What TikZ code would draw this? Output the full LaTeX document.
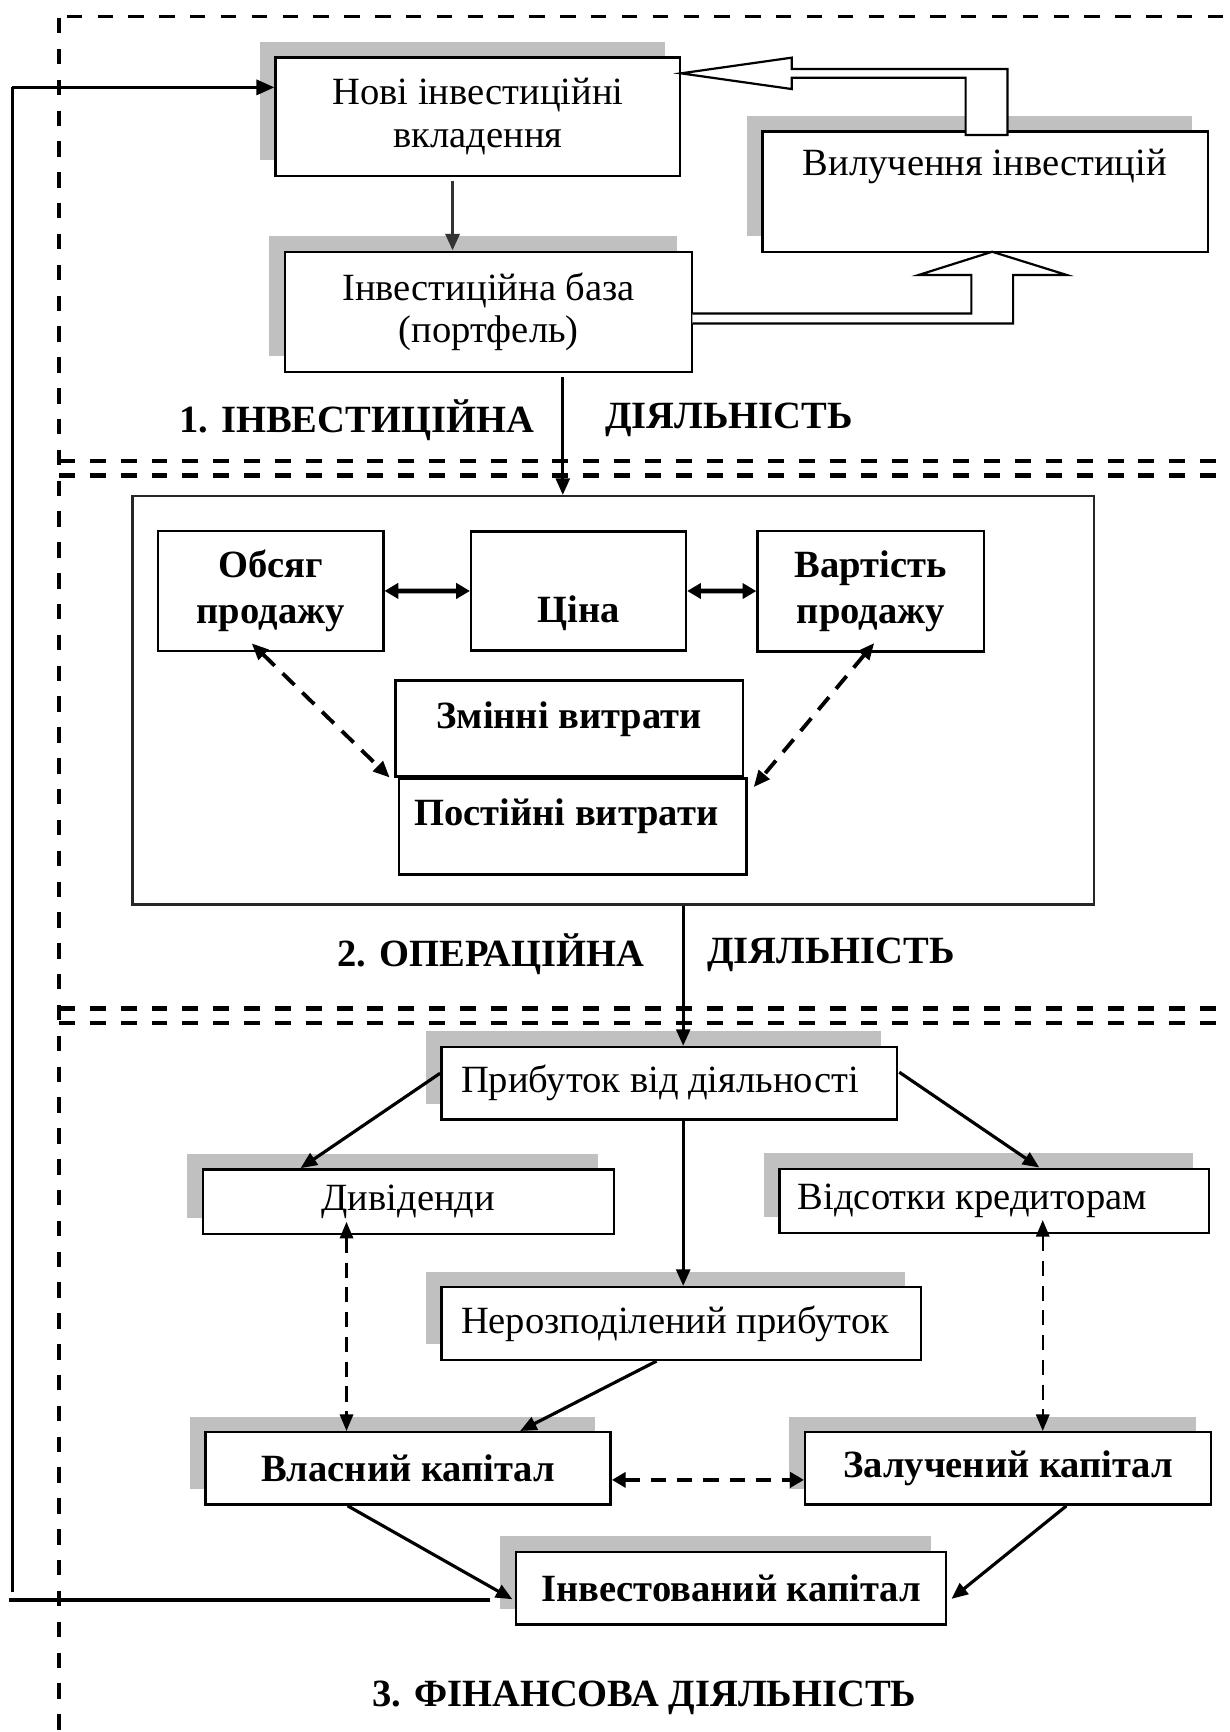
\documentclass[tikz,border=0pt]{standalone}
\usepackage{fontspec}
\setmainfont{Liberation Serif}
\usetikzlibrary{arrows.meta,fit,shadows,calc}
\definecolor{boxshadow}{HTML}{C0C0C0}
\tikzset{
  box/.style={draw, line width=0.9pt, fill=white, inner sep=0pt},
  sbox/.style={box, drop shadow={shadow xshift=-5.7pt, shadow yshift=5.7pt, opacity=1, fill=boxshadow}},
  txt/.style={inner sep=0pt, align=center},
  btxt/.style={inner sep=0pt, align=center, font=\bfseries},
  arr/.style={line width=1.15pt, -{Triangle[length=6pt,width=5pt]}},
  darr/.style={line width=1.7pt, {Triangle[length=5pt,width=5.5pt]}-{Triangle[length=5pt,width=5.5pt]}},
  dasharr/.style={line width=1.4pt, dash pattern=on 6pt off 4pt, {Triangle[length=6pt,width=5pt]}-{Triangle[length=6pt,width=5pt]}},
  thinDash/.style={line width=0.9pt, dash pattern=on 5.5pt off 3.5pt, {Triangle[length=6pt,width=4.8pt]}-{Triangle[length=6pt,width=4.8pt]}},
  thickDash/.style={line width=1.7pt, dash pattern=on 5.5pt off 4pt, {Triangle[length=5pt,width=5.5pt]}-{Triangle[length=5pt,width=5.5pt]}},
  border/.style={line width=1.2pt, dash pattern=on 5.6pt off 5.6pt},
  sepline/.style={line width=1.6pt, dash pattern=on 5.8pt off 5.4pt},
  blockarrow/.style={draw, fill=white, line width=0.8pt, line join=miter},
}
\begin{document}
\fontsize{14}{15.5}\selectfont
\begin{tikzpicture}[x={(0.014106cm,0)}, y={(0,-0.014106cm)}]
\useasboundingbox (0,0) rectangle (1113,1568);

% section borders
\draw[border] (53.4,16.3) -- (53.4,1568);
\draw[border] (60.4,15.1) -- (1113,15.1);
\draw[sepline] (53.4,417.5) -- (1113,417.5);
\draw[sepline] (53.4,430.5) -- (1113,430.5);
\draw[sepline] (53.4,913) -- (1113,913);
\draw[sepline] (53.4,926) -- (1113,926);

% x positions of the vertical connectors
\coordinate (xn) at (409.7,0);
\coordinate (xa) at (509.5,0);
\coordinate (xm) at (618.5,0);
\coordinate (xl) at (313.7,0);
\coordinate (xr) at (944,0);

% ---------- 1. investment activity ----------
\node[sbox, fit={(249.5,51.9) (615.8,159.1)}] (novi) {};
\node[txt] (novitxt) at (novi.center) {Нові інвестиційні\\вкладення};
\node[sbox, fit={(258,227.9) (626.7,336.6)}] (baza) {};
\node[txt] (bazatxt) at (baza.center) {Інвестиційна база\\(портфель)};
\node[sbox, fit={(690.2,119.2) (1093.4,227.9)}] (vyl) {};
\node[txt] (vyltxt) at (891.6,151) {Вилучення інвестицій};

\draw[line width=1.3pt, -{Triangle[length=6pt,width=5pt]}, black!80]
  ($(novi.south -| xn)+(0,4)$) -- (baza.north -| xn);

% hollow block arrows: portfolio -> withdrawal -> new investments
\draw[blockarrow] (912,122.3) -- (912,62.5) -- (716.7,62.5) -- (716.7,52.2)
  -- (616.5,66.4) -- (716.7,80.6) -- (716.7,70.3) -- (874.2,70.3) -- (874.2,122.3) -- cycle;
\draw[blockarrow] (626.7,283.8) -- (879.4,283.8) -- (879.4,249) -- (831.5,249)
  -- (898.2,227.9) -- (965.9,249) -- (917.2,249) -- (917.2,292.9) -- (626.7,292.9);

\node[btxt] (lab1a) at (323,380) {1. ІНВЕСТИЦІЙНА};
\node[btxt] (lab1b) at (660,380) {ДІЯЛЬНІСТЬ};

% ---------- 2. operating activity ----------
\node[box, draw=black!85, fit={(120,449.2) (990.2,819)}] (ops) {};
\draw[arr] ($(baza.south -| xa)+(0,4)$) -- (ops.north -| xa);

\node[box, fit={(143,480.6) (347,589.3)}] (obsyag) {};
\node[btxt] (obsyagtxt) at (obsyag.center) {Обсяг\\[1pt]продажу};
\node[box, fit={(426.6,481) (621,589)}] (tsina) {};
\node[btxt] (tsinatxt) at (523.8,555) {Ціна};
\node[box, fit={(685.8,480.6) (890.8,589.6)}] (vartist) {};
\node[btxt] (vartisttxt) at (vartist.center) {Вартість\\[1pt]продажу};
\node[box, fit={(357.9,616) (672.5,702.8)}] (zminni) {};
\node[btxt] (zminnitxt) at (515.2,651) {Змінні витрати};
\node[box, fit={(361.3,704.9) (676,791.8)}] (postiyni) {};
\node[btxt] (postiynitxt) at (512.7,739) {Постійні витрати};

\draw[darr] (obsyag.east) -- (tsina.west);
\draw[darr] (tsina.east) -- (vartist.west);
\draw[dasharr] ([shift={(86,-8)}]obsyag.south west) -- ([shift={(-4,0)}]zminni.south west);
\draw[dasharr] ([shift={(106.8,-8.6)}]vartist.south west) -- ([shift={(5.2,8.8)}]postiyni.north east);

\node[btxt] (lab2a) at (444.5,864) {2. ОПЕРАЦІЙНА};
\node[btxt] (lab2b) at (752.5,864) {ДІЯЛЬНІСТЬ};

% ---------- 3. financial activity ----------
\node[sbox, fit={(399.5,947.9) (812,1013.4)}] (prybutok) {};
\node[txt, anchor=west] (prybtxt) at ([shift={(18.5,0)}]prybutok.west) {Прибуток від діяльності};
\node[sbox, fit={(183.6,1058.7) (555.7,1117)}] (dyv) {};
\node[txt] (dyvtxt) at (dyv.center) {Дивіденди};
\node[sbox, fit={(705.6,1058.1) (1094.6,1116.1)}] (vids) {};
\node[txt, anchor=west] (vidstxt) at ([shift={(17.4,0)}]vids.west) {Відсотки кредиторам};
\node[sbox, fit={(399.5,1165.3) (833.8,1231.1)}] (neroz) {};
\node[txt, anchor=west] (neroztxt) at ([shift={(18.5,0)}]neroz.west) {Нерозподілений прибуток};
\node[sbox, fit={(186,1296.6) (552.9,1362.1)}] (vlas) {};
\node[btxt] (vlastxt) at (vlas.center) {Власний капітал};
\node[sbox, fit={(728.9,1296.6) (1096.5,1362.1)}] (zal) {};
\node[btxt] (zaltxt) at (zal.center) {Залучений капітал};
\node[sbox, fit={(467,1405.2) (856.6,1470.8)}] (inv) {};
\node[btxt] (invtxt) at (inv.center) {Інвестований капітал};

\draw[arr] (ops.south -| xm) -- (prybutok.north -| xm);
\draw[arr] ([shift={(0,-9)}]prybutok.west) -- ([shift={(89.6,0)}]dyv.north west);
\draw[arr] ([shift={(1,-10)}]prybutok.east) -- ([shift={(236.4,0)}]vids.north west);
\draw[arr] (prybutok.south -| xm) -- (neroz.north -| xm);
\draw[arr] ([shift={(196,0)}]neroz.south west) -- ([shift={(286,0)}]vlas.north west);

\draw[thinDash] ($(dyv.south -| xl)+(0,-12)$) -- (vlas.north -| xl);
\draw[thinDash] ($(vids.south -| xr)+(0,-12.7)$) -- (zal.north -| xr);
\draw[thickDash] ($(vlas.east)+(0,10.4)$) -- ($(zal.west)+(0,10.4)$);

\draw[arr] ([shift={(129.8,0)}]vlas.south west) -- ([shift={(-2,9.8)}]inv.west);
\draw[arr] ([shift={(237.7,0)}]zal.south west) -- ([shift={(3.6,9.5)}]inv.east);

% feedback line from invested capital back to new investments
\coordinate (lb) at (8.5,1448.4);
\coordinate (lv) at (11.3,1441.5);
\coordinate (lt) at (11.3,79.1);
\draw[line width=1.6pt] ($(inv.west)+(-22,10.4)$) -- (lb);
\draw[line width=1.2pt] (lv) -- (lt);
\draw[line width=1pt, -{Triangle[length=6.5pt,width=5.5pt]}] (lt) -- (lt -| novi.west);

\node[btxt] (lab3) at (583.4,1537) {3. ФІНАНСОВА ДІЯЛЬНІСТЬ};
\end{tikzpicture}
\end{document}
